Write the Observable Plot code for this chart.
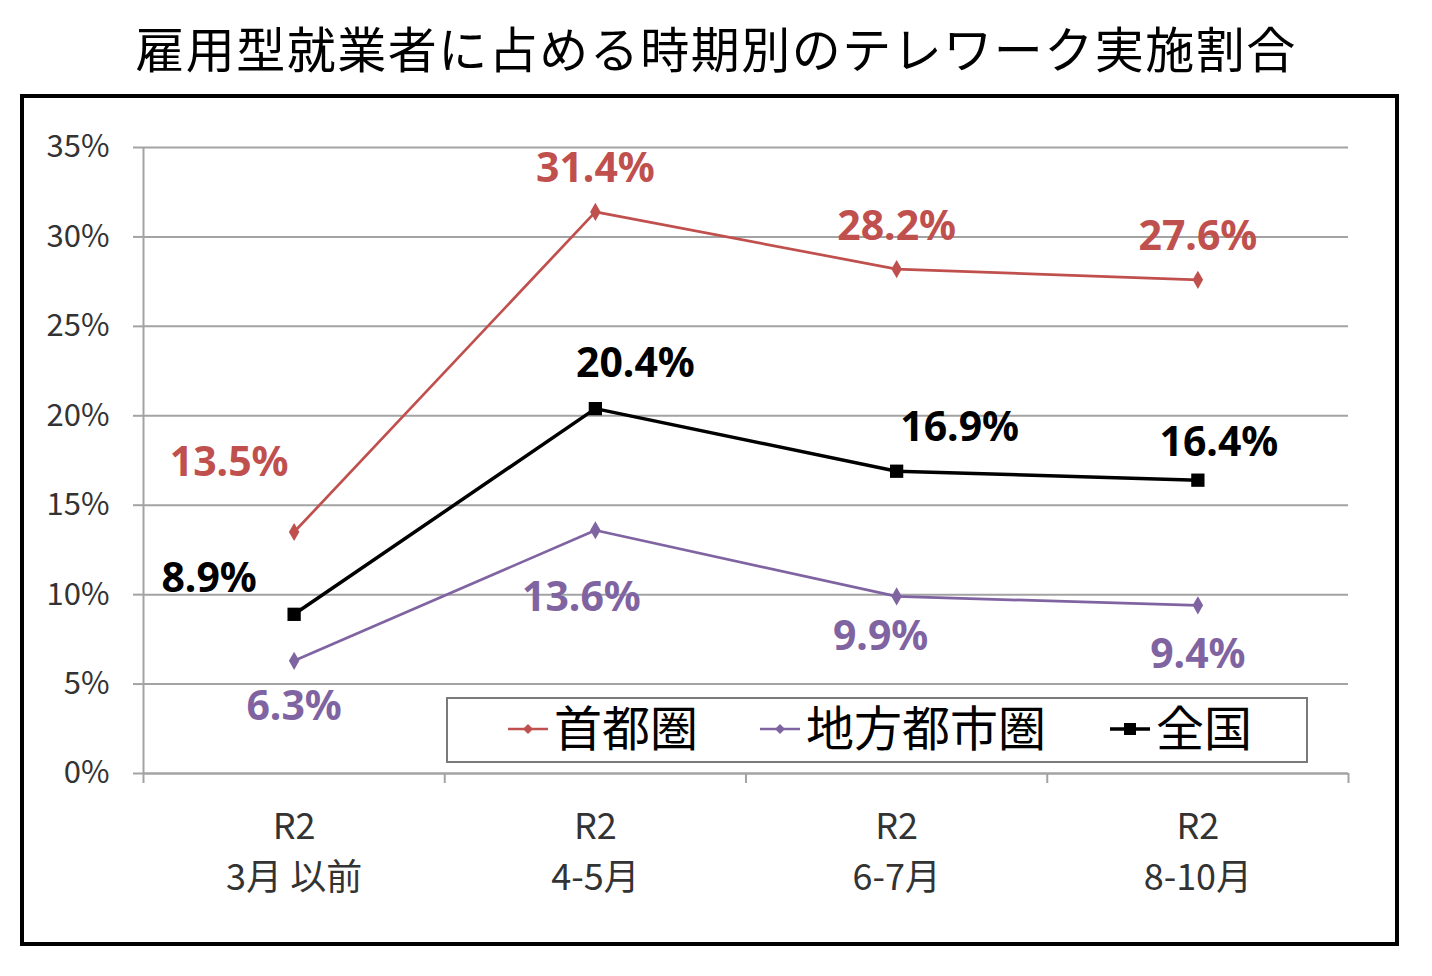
<!DOCTYPE html>
<html>
<head>
<meta charset="utf-8">
<script src="https://cdn.jsdelivr.net/npm/d3@7"></script>
<script src="https://cdn.jsdelivr.net/npm/@observablehq/plot@0.6"></script>
<style>
  html, body { margin: 0; padding: 0; background: #fff; }
  body { width: 1432px; height: 976px; position: relative; overflow: hidden;
         font-family: "Noto Sans CJK JP", "Noto Sans", sans-serif; }
  #title { position: absolute; left: 0; top: 14px; width: 1432px; text-align: center;
           font-size: 49px; line-height: 66px; color: #000; letter-spacing: 1.5px; }
  #frame { position: absolute; left: 20px; top: 94px; width: 1371px; height: 844px;
           border: 4px solid #000; }
  #chart svg { display: block; }
  #legend { position: absolute; left: 422px; top: 599px; width: 858px; height: 62px;
            border: 2px solid #7a7a7a; background: #fff; }
  .item { position: absolute; top: -5px; height: 62px; display: flex; align-items: center;
          font-size: 48px; color: #000; }
  .item svg { margin-right: 6px; margin-top: 8px; }
</style>
</head>
<body>
<div id="title">雇用型就業者に占める時期別のテレワーク実施割合</div>
<div id="frame">
  <div id="chart"></div>
  <div id="legend"></div>
</div>
<script>
// ---- data ----
const categories = ["R2\n3月 以前", "R2\n4-5月", "R2\n6-7月", "R2\n8-10月"];
const seriesNames = ["首都圏", "地方都市圏", "全国"];
const shutokenValues = [13.5, 31.4, 28.2, 27.6];
const chihouValues = [6.3, 13.6, 9.9, 9.4];
const zenkokuValues = [8.9, 20.4, 16.9, 16.4];
const yTicks = [0, 5, 10, 15, 20, 25, 30, 35];

// ---- styles ----
const colors = {"首都圏": "#C0504D", "地方都市圏": "#8064A2", "全国": "#000000"};
const symbols = {"首都圏": "diamond", "地方都市圏": "diamond", "全国": "square"};
const dotR = {"首都圏": 5.5, "地方都市圏": 5.5, "全国": 7.5};
const lineW = {"首都圏": 2.7, "地方都市圏": 2.7, "全国": 3.5};
const labelOffsets = {
  "首都圏": [[-65, -69], [0, -43], [0, -42], [0, -43]],
  "地方都市圏": [[0, 46], [-14, 68], [-16, 40], [0, 50]],
  "全国": [[-85, -35], [40, -45], [63, -43], [21, -37]]
};

const valuesBySeries = {"首都圏": shutokenValues, "地方都市圏": chihouValues, "全国": zenkokuValues};
const table = seriesNames.flatMap(s => valuesBySeries[s].map((v, i) => ({series: s, i, value: v})));
const boundaries = d3.range(categories.length + 1).map(k => k - 0.5);

const marks = [
  Plot.gridY({ticks: yTicks, stroke: "#a3a3a3", strokeOpacity: 1, strokeWidth: 2}),
  Plot.axisY({ticks: yTicks, tickFormat: d => d + "%", tickSize: 10, tickPadding: 24, label: null,
              fontSize: 31, stroke: "#a3a3a3", strokeWidth: 2, fill: "#333"}),
  Plot.ruleX([-0.5], {y1: 0, y2: 35, stroke: "#a3a3a3", strokeWidth: 2}),
  Plot.ruleY([0], {stroke: "#a3a3a3", strokeWidth: 2}),
  Plot.axisX({ticks: boundaries, tickFormat: () => "", tickSize: 10, label: null, stroke: "#a3a3a3", strokeWidth: 2}),
  Plot.axisX({ticks: d3.range(categories.length), tickFormat: i => categories[i], tickSize: 0, label: null,
              tickPadding: 30, fontSize: 36, lineHeight: 1.4, fill: "#333"})
];
for (const s of seriesNames) {
  const data = table.filter(d => d.series === s);
  marks.push(Plot.line(data, {x: "i", y: "value", stroke: colors[s], strokeWidth: lineW[s]}));
  marks.push(Plot.dot(data, {x: "i", y: "value", symbol: symbols[s], r: dotR[s], fill: colors[s], stroke: "none"}));
  data.forEach((d, k) => {
    const [dx, dy] = labelOffsets[s][k];
    marks.push(Plot.text([d], {x: "i", y: "value", text: d => d.value.toFixed(1) + "%", dx, dy,
      fill: colors[s], fontSize: 41, fontWeight: "bold", fontFamily: "'Noto Sans', sans-serif"}));
  });
}

const chart = Plot.plot({
  width: 1371, height: 844,
  marginLeft: 119, marginRight: 47, marginTop: 49, marginBottom: 169,
  x: {type: "linear", domain: [-0.5, categories.length - 0.5], axis: null},
  y: {domain: [0, 35], axis: null},
  style: {fontFamily: "'Noto Sans CJK JP', 'Noto Sans', sans-serif", background: "#fff", overflow: "visible"},
  marks
});
document.getElementById("chart").append(chart);

// legend
const legend = document.getElementById("legend");
const legendX = [60, 312, 662];
seriesNames.forEach((s, k) => {
  const item = document.createElement("div");
  item.className = "item";
  item.style.left = legendX[k] + "px";
  const w = 40, h = 20;
  const marker = symbols[s] === "square"
    ? `<rect x="${w/2-6}" y="${h/2-6}" width="12" height="12" fill="${colors[s]}"/>`
    : `<path d="M${w/2} ${h/2-5}L${w/2+5} ${h/2}L${w/2} ${h/2+5}L${w/2-5} ${h/2}Z" fill="${colors[s]}"/>`;
  item.innerHTML = `<svg width="${w}" height="${h}"><line x1="0" x2="${w}" y1="${h/2}" y2="${h/2}" stroke="${colors[s]}" stroke-width="${lineW[s]}"/>${marker}</svg><span>${s}</span>`;
  legend.append(item);
});
</script>
</body>
</html>
